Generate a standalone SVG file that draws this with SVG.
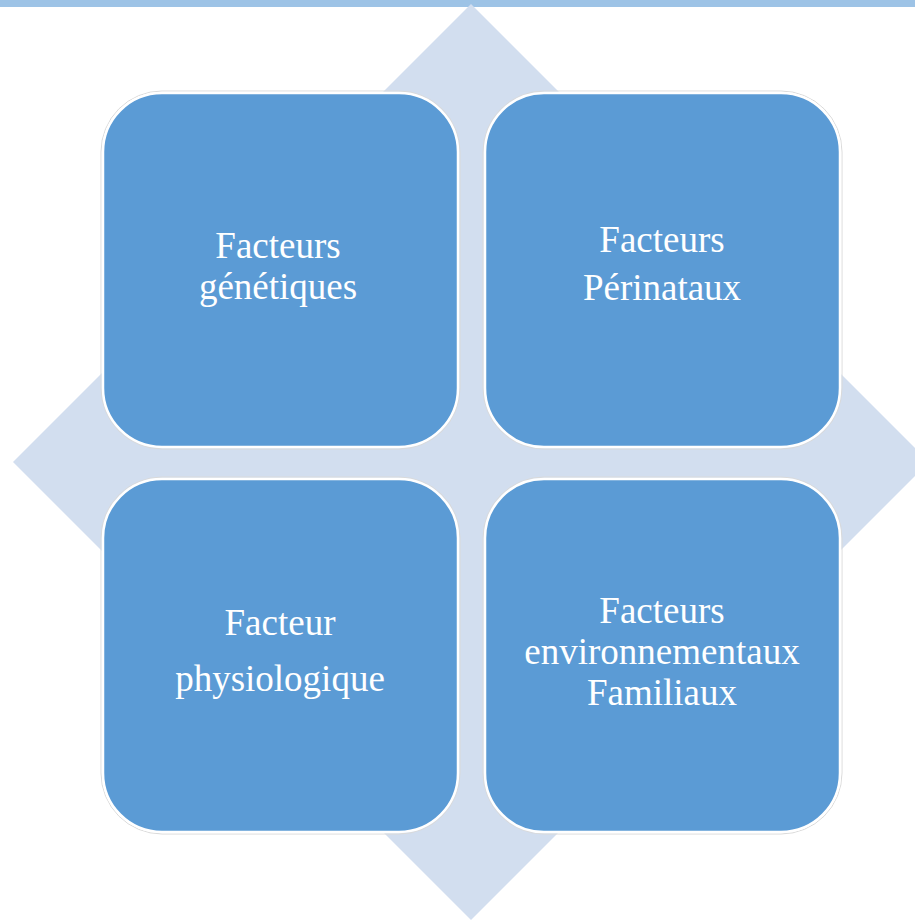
<svg xmlns="http://www.w3.org/2000/svg" width="915" height="920" viewBox="0 0 915 920">
  <style>
    .box { fill: #5B9BD5; stroke: #FFFFFF; stroke-width: 2.5; }
    .halo { fill: none; stroke: #DADADA; stroke-width: 1; }
    .lbl { font-family: "Liberation Serif", "DejaVu Serif", serif; font-size: 37px; fill: #FFFFFF; text-anchor: middle; }
  </style>
  <rect x="0" y="0" width="915" height="920" fill="#FFFFFF"/>
  <rect x="0" y="0" width="915" height="7" fill="#9DC3E6"/>
  <g id="background-diamond">
    <polygon points="471,4 929,462 471,920 13,462" fill="#D2DEEF"/>
  </g>
  <g id="connectors"></g>
  <g id="node-genetiques">
    <rect class="halo" x="101" y="91" width="359" height="358" rx="61"/>
    <rect class="box" x="103" y="93" width="355" height="354" rx="59"/>
    <text class="lbl" x="278" y="258">Facteurs</text>
    <text class="lbl" x="278" y="299">génétiques</text>
  </g>
  <g id="node-perinataux">
    <rect class="halo" x="483" y="91" width="359" height="358" rx="61"/>
    <rect class="box" x="485" y="93" width="355" height="354" rx="59"/>
    <text class="lbl" x="662" y="252">Facteurs</text>
    <text class="lbl" x="662" y="300">Périnataux</text>
  </g>
  <g id="node-physiologique">
    <rect class="halo" x="101" y="477" width="359" height="357" rx="61"/>
    <rect class="box" x="103" y="479" width="355" height="353" rx="59"/>
    <text class="lbl" x="280" y="635">Facteur</text>
    <text class="lbl" x="280" y="691">physiologique</text>
  </g>
  <g id="node-environnementaux">
    <rect class="halo" x="483" y="477" width="359" height="357" rx="61"/>
    <rect class="box" x="485" y="479" width="355" height="353" rx="59"/>
    <text class="lbl" x="662" y="623">Facteurs</text>
    <text class="lbl" x="662" y="664">environnementaux</text>
    <text class="lbl" x="662" y="705">Familiaux</text>
  </g>
</svg>
